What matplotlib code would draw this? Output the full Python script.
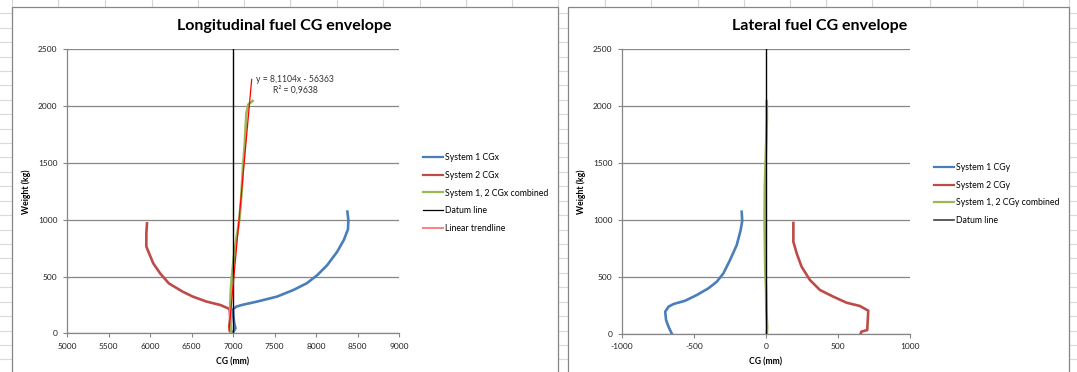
import numpy as np
import matplotlib
matplotlib.use("Agg")
import matplotlib.pyplot as plt
from matplotlib.lines import Line2D
from matplotlib.patches import Rectangle

plt.rcParams["font.family"] = ["Lato", "DejaVu Sans"]
plt.rcParams["axes.unicode_minus"] = False

# ─────────────────────────────────────────────
# DATA
# ─────────────────────────────────────────────
# Longitudinal envelope, weight (kg) vs CG x (mm)
sys1_cgx_x = [7005, 7030, 7015, 7005, 7000, 7040, 7110, 7290, 7530, 7730, 7890,
              8015, 8135, 8255, 8335, 8385, 8390, 8378]
sys1_cgx_w = [15, 44, 88, 150, 211, 235, 250, 279, 323, 382, 441,
              512, 600, 718, 821, 915, 997, 1071]

sys2_cgx_x = [6972, 6955, 6965, 6962, 6955, 6848, 6682, 6516, 6392, 6226, 6122,
              6039, 5956, 5956, 5964]
sys2_cgx_w = [12, 60, 130, 190, 215, 249, 279, 323, 367, 440, 528,
              616, 763, 880, 968]

comb_cgx_x = [6975, 6970, 6966, 6975, 6993, 7015, 7045, 7077, 7100, 7119, 7140,
              7155, 7162, 7185, 7237]
comb_cgx_w = [0, 100, 250, 400, 550, 700, 850, 1000, 1200, 1450, 1650,
              1850, 1940, 2015, 2045]

datum_x = [7000, 7000]
datum_w = [0, 2500]

# linear trendline: y = 8,1104x - 56363 (R² = 0,9638)
trend_slope = 8.1104
trend_icpt = -56363
trend_x = np.array([6952, 7225])

# Lateral envelope, weight (kg) vs CG y (mm)
sys1_cgy_y = [-654, -677, -694, -700, -677, -643, -562, -481, -400, -342, -296,
              -250, -203, -176, -165, -169]
sys1_cgy_w = [0, 61, 120, 193, 237, 260, 289, 339, 398, 456, 529,
              646, 778, 909, 990, 1070]

sys2_cgy_y = [657, 663, 703, 710, 652, 559, 467, 375, 305, 247, 213, 190, 190]
sys2_cgy_w = [0, 18, 32, 202, 243, 272, 325, 383, 471, 588, 705, 807, 971]

comb_cgy_y = [5, 8, 3, 0, -5, -8, -10, -8, -3, 2, 6, 5]
comb_cgy_w = [0, 50, 200, 400, 550, 800, 1000, 1300, 1500, 1700, 1900, 2040]

datum_y = [0, 0]

weight_ticks = [0, 500, 1000, 1500, 2000, 2500]
long_ticks = [5000, 5500, 6000, 6500, 7000, 7500, 8000, 8500, 9000]
lat_ticks = [-1000, -500, 0, 500, 1000]

BLUE = "#4A7EBB"
RED = "#BE4B48"
GREEN = "#98B954"
GRID = "#868686"

W, H = 1077, 372
fig = plt.figure(figsize=(W / 100, H / 100), dpi=100)


def fx(x):
    return x / W


def fy(y):
    return 1 - y / H


# ─────────────────────────────────────────────
# SPREADSHEET BACKGROUND + CHART FRAMES
# ─────────────────────────────────────────────
cols = [12, 58, 105, 151.5, 198, 244.5, 290, 336.5, 383, 419.5, 465.5, 512, 558,
        604.5, 651, 697.5, 744, 790, 826, 872, 930, 976.5, 1023, 1069]
for c in cols:
    fig.add_artist(Line2D([fx(c), fx(c)], [fy(0), fy(H)], color="#D4D4D4",
                          lw=0.8, transform=fig.transFigure, zorder=-3))
for r in np.arange(13.3, H, 14.42):
    fig.add_artist(Line2D([0, 1], [fy(r), fy(r)], color="#DADADA",
                          lw=0.8, transform=fig.transFigure, zorder=-3))

for x0, x1 in [(12, 557.5), (568, 1069)]:
    fig.add_artist(Rectangle((fx(x0), fy(H + 5)), fx(x1 - x0), (H + 5 - 7) / H,
                             facecolor="white", edgecolor=GRID, lw=0.9,
                             transform=fig.transFigure, zorder=-1))


def style_axes(ax, xticks):
    ax.set_facecolor("white")
    for s in ["top", "right"]:
        ax.spines[s].set_visible(False)
    for s in ["left", "bottom"]:
        ax.spines[s].set_color(GRID)
        ax.spines[s].set_linewidth(0.9)
    ax.set_ylim(0, 2500)
    ax.set_yticks(weight_ticks)
    ax.set_xlim(xticks[0], xticks[-1])
    ax.set_xticks(xticks)
    ax.tick_params(axis="both", colors=GRID, length=3, width=0.8,
                   labelsize=6, labelcolor="#222222", pad=4)
    ax.yaxis.grid(True, color=GRID, lw=0.9)
    ax.set_axisbelow(True)
    ax.set_xlabel("CG (mm)", fontsize=6.2, fontweight="bold", labelpad=5)
    ax.set_ylabel("Weight (kg)", fontsize=6.2, fontweight="bold", labelpad=5)


def style_legend(leg):
    for ln in leg.get_lines():
        ln.set_linewidth(1.6)


# ─────────────────────────────────────────────
# LONGITUDINAL
# ─────────────────────────────────────────────
ax1 = fig.add_axes([fx(67), fy(333.3), fx(332), (333.3 - 49.3) / H])
style_axes(ax1, long_ticks)
lw = 1.9
ax1.plot(sys1_cgx_x, sys1_cgx_w, color=BLUE, lw=lw, label="System 1 CGx",
         solid_joinstyle="round")
ax1.plot(sys2_cgx_x, sys2_cgx_w, color=RED, lw=lw, label="System 2 CGx",
         solid_joinstyle="round")
ax1.plot(comb_cgx_x, comb_cgx_w, color=GREEN, lw=lw,
         label="System 1, 2 CGx combined", solid_joinstyle="round")
ax1.plot(datum_x, datum_w, color="black", lw=1.0, label="Datum line")
ax1.plot(trend_x, trend_slope * trend_x + trend_icpt, color="#FF0000", lw=0.9,
         label="Linear trendline")
ax1.text(7747, 2185, "y = 8,1104x - 56363\nR² = 0,9638", fontsize=6.2,
         ha="center", va="center", color="#333333", linespacing=1.25)
fig.text(fx(284.6), fy(25.7), "Longitudinal fuel CG envelope", fontsize=11.5,
         fontweight="bold", ha="center", va="center")
leg1 = ax1.legend(loc="upper left", bbox_to_anchor=(fx(422.7), fy(153)),
                  bbox_transform=fig.transFigure, frameon=False, fontsize=6.3,
                  borderpad=0, borderaxespad=0, handlelength=2.3,
                  handletextpad=0.2, labelspacing=1.0)
style_legend(leg1)
leg1.get_lines()[3].set_linewidth(0.9)
leg1.get_lines()[4].set_linewidth(1.4)
leg1.get_lines()[4].set_color("#FF7F7F")

# ─────────────────────────────────────────────
# LATERAL
# ─────────────────────────────────────────────
ax2 = fig.add_axes([fx(622), fy(333.7), fx(288), (333.7 - 48.7) / H])
style_axes(ax2, lat_ticks)
ax2.plot(sys1_cgy_y, sys1_cgy_w, color=BLUE, lw=lw, label="System 1 CGy",
         solid_joinstyle="round")
ax2.plot(sys2_cgy_y, sys2_cgy_w, color=RED, lw=lw, label="System 2 CGy",
         solid_joinstyle="round")
ax2.plot(comb_cgy_y, comb_cgy_w, color=GREEN, lw=lw,
         label="System 1, 2 CGy combined", solid_joinstyle="round")
ax2.plot(datum_y, datum_w, color="black", lw=1.0, label="Datum line")
fig.text(fx(819.4), fy(26), "Lateral fuel CG envelope", fontsize=11.5,
         fontweight="bold", ha="center", va="center")
leg2 = ax2.legend(loc="upper left", bbox_to_anchor=(fx(934), fy(163)),
                  bbox_transform=fig.transFigure, frameon=False, fontsize=6.3,
                  borderpad=0, borderaxespad=0, handlelength=2.3,
                  handletextpad=0.2, labelspacing=0.98)
style_legend(leg2)
leg2.get_lines()[3].set_linewidth(1.2)
leg2.get_lines()[3].set_color("#404040")

fig.savefig("out.png", dpi=100)
